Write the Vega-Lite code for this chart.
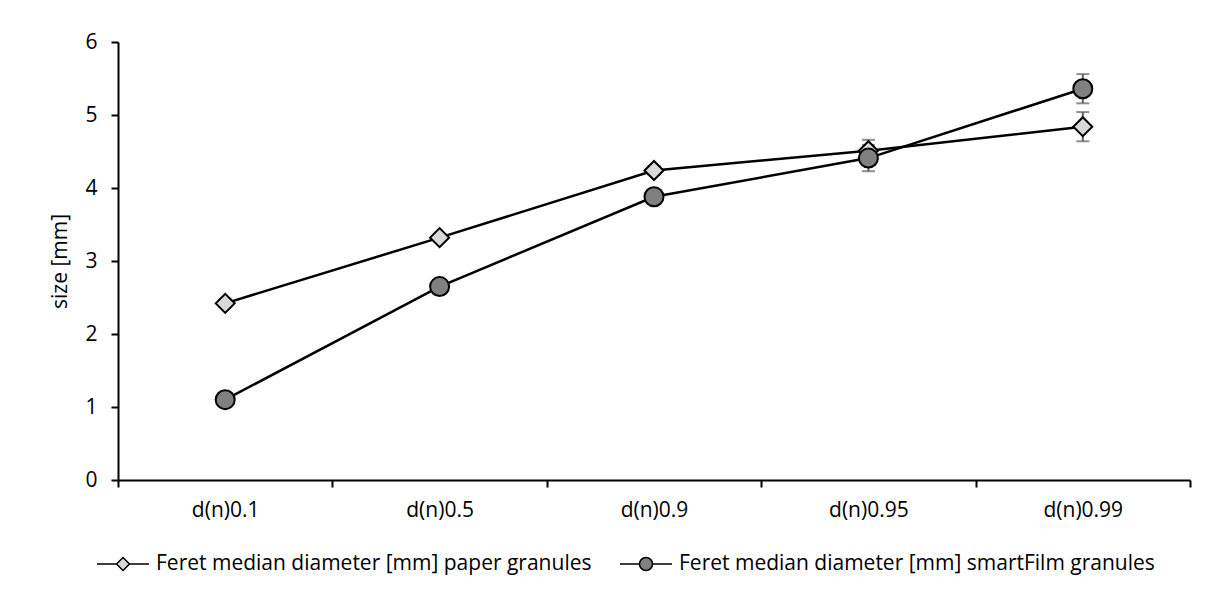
{
  "$schema": "https://vega.github.io/schema/vega-lite/v6.json",
  "width": 1072,
  "height": 438,
  "autosize": "none",
  "padding": {"left": 118, "top": 42, "right": 18, "bottom": 116},
  "background": "white",
  "config": {
    "view": {"stroke": null},
    "font": "Open Sans",
    "axis": {
      "domainColor": "black", "tickColor": "black", "labelColor": "black", "titleColor": "black",
      "labelFont": "Open Sans", "titleFont": "Open Sans",
      "labelFontSize": 21, "titleFontSize": 21, "titleFontWeight": "normal",
      "domainWidth": 2, "tickWidth": 2, "tickSize": 7, "grid": false
    },
    "legend": {"labelFont": "Open Sans", "labelFontSize": 21, "labelColor": "black", "labelLimit": 0}
  },
  "data": {
    "values": [
      {"cat": "d(n)0.1", "series": "Feret median diameter [mm] paper granules", "value": 2.42, "lo": 2.37, "hi": 2.47},
      {"cat": "d(n)0.5", "series": "Feret median diameter [mm] paper granules", "value": 3.32, "lo": 3.27, "hi": 3.37},
      {"cat": "d(n)0.9", "series": "Feret median diameter [mm] paper granules", "value": 4.24, "lo": 4.18, "hi": 4.30},
      {"cat": "d(n)0.95", "series": "Feret median diameter [mm] paper granules", "value": 4.51, "lo": 4.36, "hi": 4.66},
      {"cat": "d(n)0.99", "series": "Feret median diameter [mm] paper granules", "value": 4.84, "lo": 4.64, "hi": 5.04},
      {"cat": "d(n)0.1", "series": "Feret median diameter [mm] smartFilm granules", "value": 1.10, "lo": 1.05, "hi": 1.15},
      {"cat": "d(n)0.5", "series": "Feret median diameter [mm] smartFilm granules", "value": 2.65, "lo": 2.60, "hi": 2.70},
      {"cat": "d(n)0.9", "series": "Feret median diameter [mm] smartFilm granules", "value": 3.88, "lo": 3.82, "hi": 3.94},
      {"cat": "d(n)0.95", "series": "Feret median diameter [mm] smartFilm granules", "value": 4.41, "lo": 4.23, "hi": 4.59},
      {"cat": "d(n)0.99", "series": "Feret median diameter [mm] smartFilm granules", "value": 5.36, "lo": 5.16, "hi": 5.56}
    ]
  },
  "encoding": {
    "x": {
      "field": "cat", "type": "nominal",
      "sort": ["d(n)0.1", "d(n)0.5", "d(n)0.9", "d(n)0.95", "d(n)0.99"],
      "scale": {"paddingInner": 0, "paddingOuter": 0},
      "axis": {"title": null, "labelAngle": 0, "tickBand": "extent", "labelPadding": 12}
    }
  },
  "resolve": {
    "scale": {"shape": "independent", "fill": "independent"},
    "legend": {"shape": "independent", "fill": "independent"}
  },
  "layer": [
    {
      "mark": {"type": "line", "color": "black", "strokeWidth": 2.5},
      "encoding": {
        "y": {
          "field": "value", "type": "quantitative",
          "scale": {"domain": [0, 6], "nice": false},
          "axis": {"title": "size [mm]", "values": [0, 1, 2, 3, 4, 5, 6], "format": "d", "labelPadding": 14, "titlePadding": 14}
        },
        "detail": {"field": "series"}
      }
    },
    {
      "mark": {"type": "rule", "color": "#606060", "strokeWidth": 2},
      "encoding": {
        "y": {"field": "lo", "type": "quantitative"},
        "y2": {"field": "hi"}
      }
    },
    {
      "mark": {"type": "tick", "color": "#606060", "thickness": 2, "size": 13},
      "encoding": {"y": {"field": "lo", "type": "quantitative"}}
    },
    {
      "mark": {"type": "tick", "color": "#606060", "thickness": 2, "size": 13},
      "encoding": {"y": {"field": "hi", "type": "quantitative"}}
    },
    {
      "mark": {"type": "point", "filled": true, "stroke": "black", "strokeWidth": 2, "opacity": 1, "size": 361},
      "encoding": {
        "y": {"field": "value", "type": "quantitative"},
        "shape": {
          "field": "series", "type": "nominal",
          "scale": {"domain": ["Feret median diameter [mm] paper granules", "Feret median diameter [mm] smartFilm granules"], "range": ["diamond", "circle"]},
          "legend": null
        },
        "fill": {
          "field": "series", "type": "nominal",
          "scale": {"domain": ["Feret median diameter [mm] paper granules", "Feret median diameter [mm] smartFilm granules"], "range": ["#d9d9d9", "#808080"]},
          "legend": null
        }
      }
    },
    {
      "mark": {"type": "point", "filled": true, "stroke": "black", "strokeWidth": 2.5, "opacity": 1, "size": 0},
      "encoding": {
        "y": {"field": "value", "type": "quantitative"},
        "shape": {
          "field": "series", "type": "nominal",
          "scale": {"domain": ["Feret median diameter [mm] paper granules", "Feret median diameter [mm] smartFilm granules"], "range": ["M-1,0H-0.25M0.25,0H1M-0.25,0L0,-0.25L0.25,0L0,0.25Z", "M-1,0H-0.25M0.25,0H1M-0.25,0A0.25,0.25,0,1,1,0.25,0A0.25,0.25,0,1,1,-0.25,0Z"]},
          "legend": {
            "title": null, "orient": "none", "direction": "horizontal",
            "legendX": -22, "legendY": 495, "labelLimit": 0,
            "symbolSize": 2704, "labelOffset": 6, "columnPadding": 25,
            "encode": {
              "symbols": {
                "stroke": {"value": "black"},
                "strokeWidth": {"value": 2.5},
                "opacity": {"value": 1}
              }
            }
          }
        },
        "fill": {
          "field": "series", "type": "nominal",
          "scale": {"domain": ["Feret median diameter [mm] paper granules", "Feret median diameter [mm] smartFilm granules"], "range": ["#d9d9d9", "#808080"]},
          "legend": {
            "title": null, "orient": "none", "direction": "horizontal",
            "legendX": -22, "legendY": 495, "labelLimit": 0,
            "symbolSize": 2704, "labelOffset": 6, "columnPadding": 25,
            "encode": {
              "symbols": {
                "stroke": {"value": "black"},
                "strokeWidth": {"value": 2.5},
                "opacity": {"value": 1}
              }
            }
          }
        }
      }
    }
  ]
}
